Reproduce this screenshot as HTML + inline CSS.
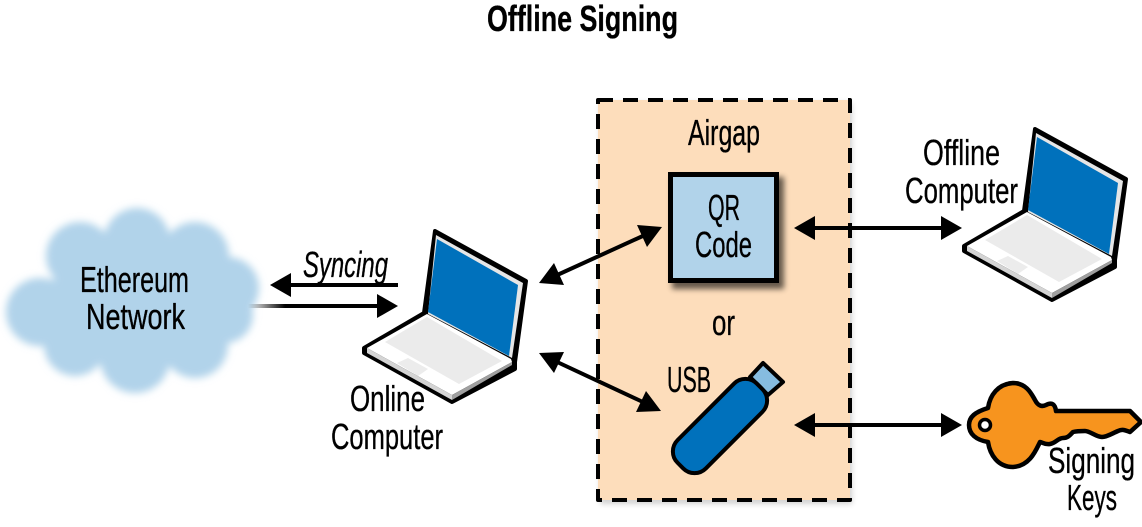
<!DOCTYPE html>
<html><head><meta charset="utf-8"><style>html,body{margin:0;padding:0;background:#fff}svg{display:block}text{font-family:"Liberation Sans",sans-serif;font-size:36px;fill:#000;stroke:#000;stroke-width:.35px}</style></head><body>
<svg width="1142" height="527" viewBox="0 0 1142 527" xmlns="http://www.w3.org/2000/svg">
<defs>
<filter id="bl" x="-20%" y="-20%" width="140%" height="140%"><feGaussianBlur stdDeviation="4"/></filter>
<filter id="sh" x="-10%" y="-10%" width="125%" height="125%"><feGaussianBlur stdDeviation="3"/></filter>
<linearGradient id="fade" gradientUnits="userSpaceOnUse" x1="248" y1="0" x2="285" y2="0"><stop offset="0" stop-color="#000" stop-opacity="0"/><stop offset="1" stop-color="#000"/></linearGradient>
<g id="lap">
<path d="M435 231 L526 281 L515 362 L515 369 L452 402 L364 353 L364 348 L424 313 Z" fill="#000" stroke="#000" stroke-width="4" stroke-linejoin="round"/>
<path d="M436 235 L523 283 L512 358 L428 314 Z" fill="#e6e6e6"/>
<path d="M437 239 L518 285 L509 356 L428 312 Z" fill="#0071bc"/>
<path d="M427 314 L511 359 L512 362 L452 395 L367 348 Z" fill="#fff"/>
<path d="M367 348 L452 395 L452 400 L367 353 Z" fill="#d4d4d4"/>
<path d="M452 395 L512 362 L512 365 L452 400 Z" fill="#a0a0a0"/>
<path d="M427 317 L502 361 L459 384 L385 342 Z" fill="#ebebeb"/>
<path d="M397 363 L408 358 L428 369 L418 376 Z" fill="#ececec"/>
</g>
</defs>

<!-- cloud -->
<g fill="#b1d3ea" filter="url(#bl)">
<circle cx="137" cy="241" r="33"/>
<circle cx="80" cy="256" r="34"/>
<circle cx="195" cy="256" r="34"/>
<circle cx="228" cy="288" r="31"/>
<circle cx="40" cy="312" r="34"/>
<circle cx="75" cy="345" r="31"/>
<circle cx="135" cy="358" r="35"/>
<circle cx="195" cy="345" r="33"/>
<circle cx="225" cy="315" r="28"/>
<rect x="60" y="250" width="150" height="110"/>
<rect x="30" y="280" width="210" height="50"/>
</g>

<!-- airgap box -->
<rect x="600" y="103" width="252" height="401" fill="#000" opacity=".18" filter="url(#sh)"/>
<rect x="598" y="100" width="252" height="400" fill="#fdddbb" stroke="#000" stroke-width="4" stroke-dasharray="15 10" stroke-linejoin="round"/>

<!-- QR -->
<rect x="672" y="177" width="112" height="112" fill="#000" opacity=".6" filter="url(#sh)"/>
<rect x="670.5" y="174.5" width="106" height="106" fill="#b1d3ea" stroke="#000" stroke-width="5"/>

<!-- USB -->
<polygon points="763,363 783,382 768,395 750,377" fill="#86bce0" stroke="#000" stroke-width="4" stroke-linejoin="round"/>
<rect x="664" y="406" width="112" height="40" rx="16" transform="rotate(-45 720 426)" fill="#0071bc" stroke="#000" stroke-width="4"/>

<!-- laptops -->
<use href="#lap"/>
<use href="#lap" x="600" y="-102"/>

<!-- key -->
<path d="M969 425 C969 417 975 412 988 408 C990 395 998 384 1013 383 C1027 383 1032 395 1035 400 C1038 406 1042 407 1046 405 C1052 402 1055 404 1056 411 L1130 411 L1141 422 L1130 432 C1125 430 1122 429 1118 431 C1113 433 1107 437 1102 437 C1096 437 1090 431 1085 431 C1080 431 1077 431 1073 432 C1070 435 1068 438 1063 438 C1058 438 1056 443 1050 444 C1045 445 1042 442 1040 442 C1036 450 1030 466 1013 467 C998 467 990 455 988 442 C976 440 969 434 969 425 Z" fill="#f7941e" stroke="#000" stroke-width="4.5" stroke-linejoin="round"/>
<circle cx="985" cy="425" r="5.5" fill="#fff" stroke="#000" stroke-width="3.5"/>

<!-- connectors -->
<g fill="none" stroke="#000" stroke-width="4">
<path d="M285 285 H398"/>
<path d="M248 306 H380" stroke="url(#fade)"/>
<path d="M555 276 L645 235"/>
<path d="M555 361 L645 403"/>
<path d="M810 228 H946"/>
<path d="M810 425 H946"/>
</g>
<g fill="#000">
<polygon points="270,285 291,273 291,297"/>
<polygon points="398,306 377,294 377,318"/>
<polygon points="539,283 554,263 564,285"/>
<polygon points="662,227 637,225 647,247"/>
<polygon points="539,353 564,352 554,373"/>
<polygon points="661,411 646,391 636,412"/>
<polygon points="794,228 815,216 815,240"/>
<polygon points="962,228 941,216 941,240"/>
<polygon points="794,425 815,413 815,437"/>
<polygon points="962,425 941,413 941,437"/>
</g>

<!-- labels -->
<text x="487" y="31" textLength="191" lengthAdjust="spacingAndGlyphs" style="font-weight:bold">Offline Signing</text>
<text x="688" y="145" textLength="72" lengthAdjust="spacingAndGlyphs">Airgap</text>
<text x="708" y="220" textLength="32" lengthAdjust="spacingAndGlyphs">QR</text>
<text x="695" y="257" textLength="57" lengthAdjust="spacingAndGlyphs">Code</text>
<text x="712" y="335" textLength="23" lengthAdjust="spacingAndGlyphs">or</text>
<text x="667" y="392" textLength="44" lengthAdjust="spacingAndGlyphs">USB</text>
<text x="923" y="165" textLength="77" lengthAdjust="spacingAndGlyphs">Offline</text>
<text x="905" y="203" textLength="113" lengthAdjust="spacingAndGlyphs">Computer</text>
<text x="350" y="411" textLength="75" lengthAdjust="spacingAndGlyphs">Online</text>
<text x="331" y="449" textLength="112" lengthAdjust="spacingAndGlyphs">Computer</text>
<text x="1048" y="473" textLength="87" lengthAdjust="spacingAndGlyphs">Signing</text>
<text x="1067" y="510" textLength="50" lengthAdjust="spacingAndGlyphs">Keys</text>
<text x="303" y="277" textLength="85" lengthAdjust="spacingAndGlyphs" style="font-style:italic">Syncing</text>
<text x="80" y="292" textLength="109" lengthAdjust="spacingAndGlyphs">Ethereum</text>
<text x="86" y="329" textLength="99" lengthAdjust="spacingAndGlyphs">Network</text>
</svg>
</body></html>
